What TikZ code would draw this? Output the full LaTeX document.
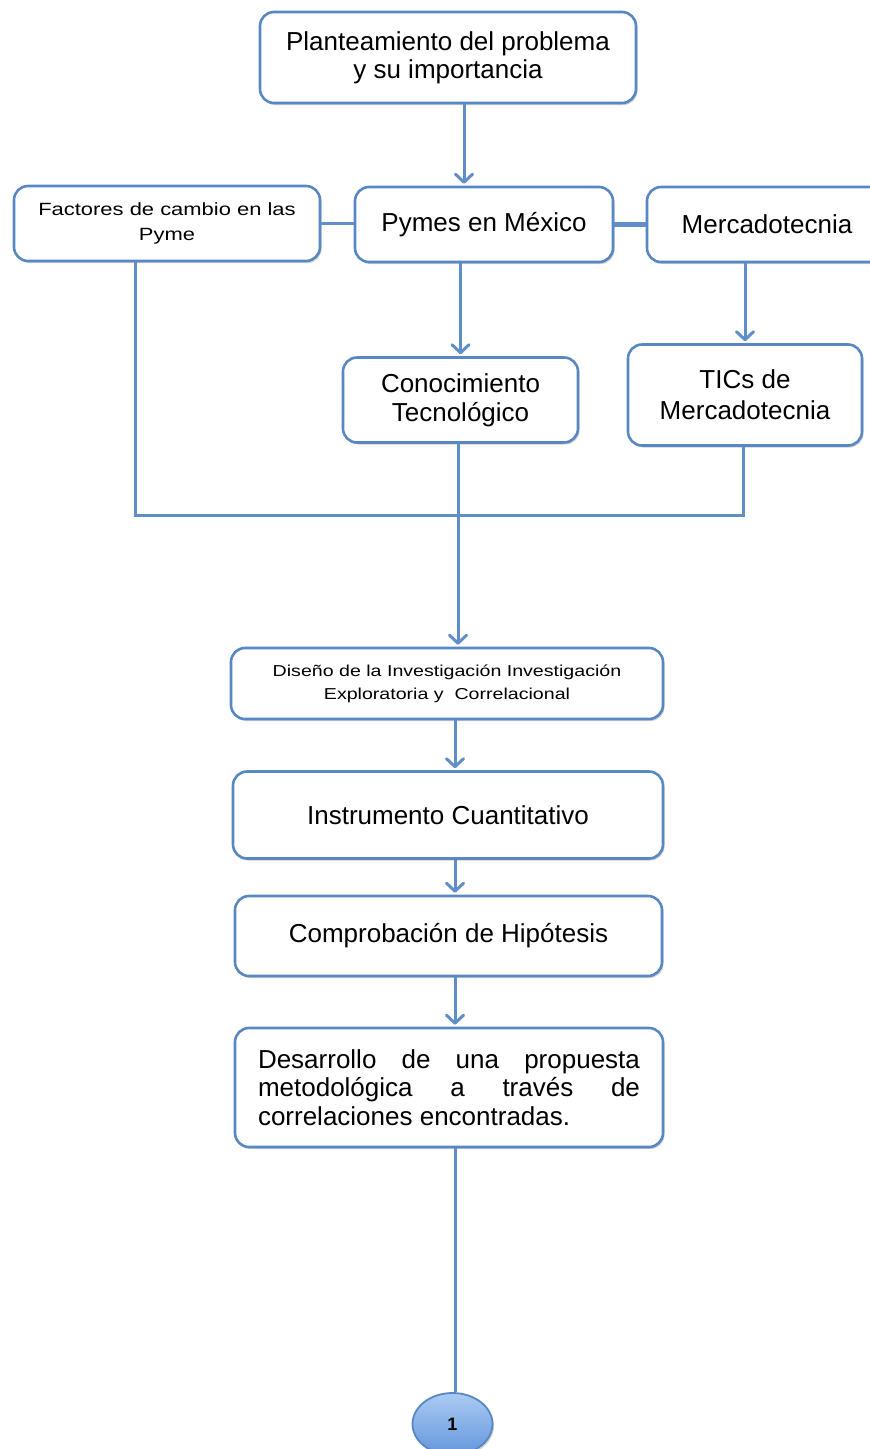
\documentclass[tikz,border=0pt]{standalone}
\usepackage{fontspec}
\setmainfont{Liberation Sans}
\newfontfamily\widefont[FakeStretch=1.24]{Liberation Sans}
\usetikzlibrary{arrows.meta,shadows,calc,shapes.geometric}
\definecolor{bordblue}{RGB}{88,136,196}
\definecolor{lineblue}{RGB}{96,142,200}
\hyphenpenalty=10000
\exhyphenpenalty=10000
\tolerance=10000
\begin{document}
\begin{tikzpicture}[x=1pt,y=-1pt,
  box/.style={draw=bordblue,line width=2.6pt,rounded corners=14pt,fill=white,
    inner sep=0pt,align=center,
    drop shadow={shadow xshift=1.5pt,shadow yshift=-2pt,opacity=0.18,fill=black}},
  conn/.style={draw=lineblue,line width=3pt},
  arr/.style={conn,-{Straight Barb[length=8pt,width=17pt,round]}},
  big/.style={font=\fontsize{26}{28}\selectfont},
  small/.style={font=\widefont\fontsize{17.7}{25}\selectfont},
  tiny/.style={font=\widefont\fontsize{15.8}{23}\selectfont}]
\clip (0,0) rectangle (870,1449);
\fill[white] (0,0) rectangle (870,1449);

\node[box,big,minimum width=376pt,minimum height=91pt] (top) at (448,57.5)
  {Planteamiento del problema\\y su importancia};
\node[box,small,minimum width=306pt,minimum height=75pt] (fac) at (167,223.5)
  {Factores de cambio en las\\Pyme};
\node[box,big,minimum width=258pt,minimum height=75pt] (pym) at (484,224.5)
  {Pymes en México};
\node[box,big,minimum width=240pt,minimum height=75pt] (mer) at (767,224.5)
  {Mercadotecnia};
\node[box,big,font=\fontsize{26}{29}\selectfont,minimum width=235pt,minimum height=85pt] (con) at (460.5,400)
  {Conocimiento\\Tecnológico};
\node[box,big,font=\fontsize{26}{31}\selectfont,minimum width=234pt,minimum height=101pt] (tic) at (745,395)
  {TICs de\\Mercadotecnia};
\node[box,tiny,minimum width=432pt,minimum height=71pt] (dis) at (447,683.5)
  {Diseño de la Investigación Investigación\\Exploratoria y\ \ Correlacional};
\node[box,big,minimum width=430pt,minimum height=87pt] (ins) at (448,815)
  {Instrumento Cuantitativo};
\node[box,big,minimum width=427pt,minimum height=80pt] (com) at (448.5,936)
  {Comprobación de Hipótesis};
\node[box,font=\fontsize{26}{28.5}\selectfont,minimum width=428pt,minimum height=119pt,
  text width=382pt,align=justify] (des) at (449,1087.5)
  {Desarrollo de una propuesta metodológica a través de \mbox{correlaciones} encontradas.};
\node[ellipse,draw=bordblue,line width=1.8pt,top color={rgb,255:red,170;green,202;blue,242},
  bottom color={rgb,255:red,100;green,150;blue,220},minimum width=80pt,minimum height=62pt,
  inner sep=0pt,font=\fontsize{18}{20}\selectfont\bfseries,
  drop shadow={shadow xshift=1.5pt,shadow yshift=-2pt,opacity=0.18,fill=black}] (one) at (452.5,1424)
  {1};

% connectors
\draw[arr] ([xshift=16pt]top.south) -- ([xshift=16pt,yshift=2pt]top.south |- pym.north);
\draw[conn] (fac.east) -- (fac.east -| pym.west);
\draw[conn,line width=5pt] (pym.east) -- (mer.west);
\draw[arr] (con.north |- pym.south) -- ([yshift=2pt]con.north);
\draw[arr] (tic.north |- mer.south) -- ([yshift=2pt]tic.north);

\coordinate (busL) at (135,515);
\coordinate (busM) at (458,515);
\coordinate (busR) at (743,515);
\draw[conn] (busL |- fac.south) -- (busL) -- (busR) -- (busR |- tic.south);
\draw[conn] (busM |- con.south) -- (busM);
\draw[arr] (busM) -- ([yshift=2pt]busM |- dis.north);

\coordinate (colX) at (455,0);
\draw[arr] (colX |- dis.south) -- ([yshift=2pt]colX |- ins.north);
\draw[arr] (colX |- ins.south) -- ([yshift=2pt]colX |- com.north);
\draw[arr] (colX |- com.south) -- ([yshift=2pt]colX |- des.north);
\draw[conn] (colX |- des.south) -- (colX |- one.north);
\end{tikzpicture}
\end{document}
